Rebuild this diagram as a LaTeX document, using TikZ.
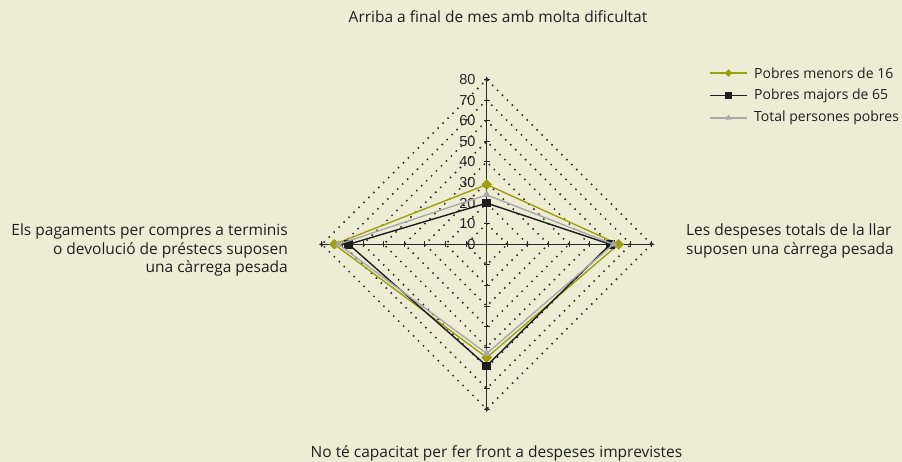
\documentclass[tikz,border=0pt]{standalone}
\usepackage{fontspec}
\setmainfont{Open Sans}
\newfontfamily\numfont{Liberation Sans}
\usepackage{tikz}
\usetikzlibrary{shapes.geometric}
\usetikzlibrary{arrows.meta}
\usetikzlibrary{positioning}
\definecolor{chartbg}{RGB}{237,237,214}
\definecolor{menorscol}{RGB}{158,160,18}
\definecolor{majorscol}{RGB}{30,30,30}
\definecolor{totalcol}{RGB}{168,168,168}
\definecolor{axiscol}{RGB}{40,40,40}
\tikzset{
% Define standard arrow tip
>={Stealth[length=4.5pt, width=4pt]},
ring/.style={draw=axiscol, line width=1.5pt, dash pattern=on 1.5pt off 5.5pt},
label/.style={font=\fontsize{15.5}{18.5}\selectfont, text=black!88, inner sep=0},
legendtext/.style={font=\fontsize{14}{17}\selectfont, text=black!88, inner sep=0},
menors/.style={draw=menorscol, line width=1.4pt},
majors/.style={draw=majorscol, line width=1.4pt},
total/.style={draw=totalcol, line width=1.4pt},
dmark/.style={diamond, fill=menorscol, inner sep=0, minimum size=10.5pt},
smark/.style={rectangle, fill=majorscol, inner sep=0, minimum size=8.5pt},
tmark/.style={regular polygon, regular polygon sides=3, fill=totalcol, inner sep=0, minimum size=8.5pt}
}
\begin{document}
\begin{tikzpicture}[x=2.06pt, y=2.06pt]
  \useasboundingbox[fill=chartbg] (-486.7pt,-217.7pt) rectangle (415.3pt,244.3pt);

  % dotted rings
  \foreach \r in {10,20,...,80}
    \draw[ring] (\r,0) -- (0,\r) -- (-\r,0) -- (0,-\r) -- cycle;

  % axes
  \coordinate (c) at (0,0);
  \foreach \a in {0,90,180,270} {
    \draw[->, draw=axiscol, line width=1.4pt] (c) -- (\a:81.5);
    \foreach \r in {10,20,...,80}
      \draw[draw=axiscol, line width=1.1pt] ([shift={(\a+90:2.8pt)}]\a:\r) -- ([shift={(\a-90:2.8pt)}]\a:\r);
  }
  \foreach \v in {0,10,...,80}
    \node[anchor=east, inner sep=0, font=\numfont\fontsize{14.5}{14.5}\selectfont, text=axiscol] (n\v) at ([xshift=-11pt]0,\v) {\v};

  % Pobres menors de 16
  \node[dmark] (m1) at (90:29) {};
  \node[dmark] (m2) at (0:64) {};
  \node[dmark] (m3) at (270:55) {};
  \node[dmark] (m4) at (180:74) {};
  \draw[menors] (m1.center) -- (m2.center) -- (m3.center) -- (m4.center) -- cycle;
  \foreach \i in {1,...,4} \node[dmark] at (m\i) {};

  % Pobres majors de 65
  \node[smark] (s1) at (90:20) {};
  \node[smark] (s2) at (0:60) {};
  \node[smark] (s3) at (270:59) {};
  \node[smark] (s4) at (180:67) {};
  \draw[majors] (s1.center) -- (s2.center) -- (s3.center) -- (s4.center) -- cycle;
  \foreach \i in {1,...,4} \node[smark] at (s\i) {};

  % Total persones pobres
  \node[tmark] (t1) at (90:24) {};
  \node[tmark] (t2) at (0:61.5) {};
  \node[tmark] (t3) at (270:53) {};
  \node[tmark] (t4) at (180:72) {};
  \draw[total] (t1.center) -- (t2.center) -- (t3.center) -- (t4.center) -- cycle;
  \foreach \i in {1,...,4} \node[tmark] at (t\i) {};

  % category labels
  \node[label] (top) at (11.3pt,227.3pt) {Arriba a final de mes amb molta dificultat};
  \node[label] (bottom) at (9.8pt,-208.7pt) {No té capacitat per fer front a despeses imprevistes};
  \node[label, anchor=west, align=left] (right) at (199.3pt,3.3pt) {Les despeses totals de la llar\\suposen una càrrega pesada};
  \node[label, anchor=east, align=right] (left) at (-198.7pt,-5.7pt) {Els pagaments per compres a terminis\\o devolució de préstecs suposen\\una càrrega pesada};

  % legend
  \coordinate (leg1a) at (223.3pt,171.3pt);
  \coordinate (leg1b) at (260.3pt,171.3pt);
  \draw[menors] (leg1a) -- (leg1b) node[midway, dmark, minimum size=8.5pt] {};
  \node[legendtext, anchor=west] (leg1) at ([xshift=7pt]leg1b) {Pobres menors de 16};
  \coordinate (leg2a) at (223.3pt,148.8pt);
  \coordinate (leg2b) at (260.3pt,148.8pt);
  \draw[majors] (leg2a) -- (leg2b) node[midway, smark, minimum size=7pt] {};
  \node[legendtext, anchor=west] (leg2) at ([xshift=7pt]leg2b) {Pobres majors de 65};
  \coordinate (leg3a) at (223.3pt,126.3pt);
  \coordinate (leg3b) at (260.3pt,126.3pt);
  \draw[total] (leg3a) -- (leg3b) node[midway, tmark, minimum size=7pt] {};
  \node[legendtext, anchor=west] (leg3) at ([xshift=7pt]leg3b) {Total persones pobres};
\end{tikzpicture}
\end{document}
